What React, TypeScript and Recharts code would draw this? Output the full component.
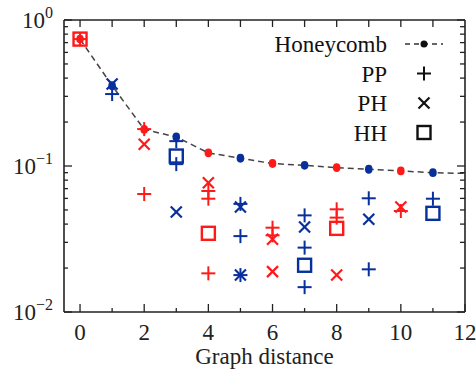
import React from "react";
import { ComposedChart, Legend, Line, Scatter, XAxis, YAxis } from "recharts";

const RED = "#ff1a1a";
const BLUE = "#08309c";
const FONT = "'Liberation Serif', 'DejaVu Serif', serif";

// honeycomb reference curve (x = 12 only carries the dashed line to the frame)
const hcDistance = [0, 1, 2, 3, 4, 5, 6, 7, 8, 9, 10, 11, 12];
const hcValue = [0.74, 0.355, 0.178, 0.158, 0.123, 0.113, 0.104, 0.101, 0.0975, 0.095, 0.0925, 0.09, 0.089];

const ppDistance = [0, 1, 2, 2, 3, 3, 4, 4, 4, 5, 5, 5, 6, 6, 7, 7, 7, 8, 8, 9, 9, 10, 11];
const ppValue = [
  0.74, 0.311, 0.179, 0.0643, 0.148, 0.103, 0.0674, 0.0597, 0.0184, 0.055, 0.0331, 0.0179,
  0.0378, 0.0335, 0.0459, 0.0276, 0.0148, 0.0505, 0.0443, 0.0601, 0.0196, 0.0492, 0.0597,
];

const phDistance = [1, 2, 3, 4, 5, 5, 6, 6, 7, 8, 9, 10];
const phValue = [0.365, 0.141, 0.0484, 0.0769, 0.0524, 0.0179, 0.0315, 0.0189, 0.0382, 0.0179, 0.0432, 0.0524];

const hhDistance = [0, 3, 4, 7, 8, 11];
const hhValue = [0.74, 0.117, 0.0346, 0.0209, 0.0374, 0.0474];

const xTicks = [0, 1, 2, 3, 4, 5, 6, 7, 8, 9, 10, 11, 12];
const yTicks = [
  0.01, 0.02, 0.03, 0.04, 0.05, 0.06, 0.07, 0.08, 0.09,
  0.1, 0.2, 0.3, 0.4, 0.5, 0.6, 0.7, 0.8, 0.9, 1,
];

const colorFor = (d: number) => (d % 2 === 0 ? RED : BLUE);

const toPoints = (xs: number[], ys: number[]) => xs.map((x, i) => ({ x, y: ys[i] }));
const hcData = toPoints(hcDistance, hcValue);
const ppData = toPoints(ppDistance, ppValue);
const phData = toPoints(phDistance, phValue);
const hhData = toPoints(hhDistance, hhValue);

const isPow10 = (v: number) => Math.abs(Math.log10(v) - Math.round(Math.log10(v))) < 1e-6;

function Plus({ cx, cy, color }: any) {
  const h = 7;
  return (
    <g stroke={color} strokeWidth={2}>
      <line x1={cx - h} x2={cx + h} y1={cy} y2={cy} />
      <line x1={cx} x2={cx} y1={cy - h} y2={cy + h} />
    </g>
  );
}

function Cross({ cx, cy, color }: any) {
  const h = 5.5;
  return (
    <g stroke={color} strokeWidth={2.2}>
      <line x1={cx - h} x2={cx + h} y1={cy - h} y2={cy + h} />
      <line x1={cx - h} x2={cx + h} y1={cy + h} y2={cy - h} />
    </g>
  );
}

function Box({ cx, cy, color }: any) {
  const h = 6.5;
  return <rect x={cx - h} y={cy - h} width={2 * h} height={2 * h} fill="none" stroke={color} strokeWidth={2.4} />;
}

function BottomTick({ x, y, payload }: any) {
  const v = payload.value;
  const major = v % 2 === 0;
  return (
    <g>
      <line x1={x} x2={x} y1={y} y2={y - (major ? 8 : 4)} stroke="#222" strokeWidth={1.3} />
      {major && (
        <text x={x} y={y + 28} textAnchor="middle" fontFamily={FONT} fontSize={23} fill="#222">
          {v}
        </text>
      )}
    </g>
  );
}

function TopTick({ x, y, payload }: any) {
  if (payload.value >= 12) return <g />;
  return <line x1={x} x2={x} y1={y} y2={y + 7} stroke="#222" strokeWidth={1.3} />;
}

function LeftTick({ x, y, payload }: any) {
  const v = payload.value;
  const major = isPow10(v);
  const exp = Math.round(Math.log10(v));
  return (
    <g>
      <line x1={x} x2={x + (major ? 8 : 4)} y1={y} y2={y} stroke="#222" strokeWidth={1.3} />
      {major && (
        <text x={x - 11} y={y + 8} textAnchor="end" fontFamily={FONT} fontSize={23} fill="#222">
          10
          <tspan dy={-10} fontSize={16}>
            {exp === 0 ? "0" : `\u2212${Math.abs(exp)}`}
          </tspan>
        </text>
      )}
    </g>
  );
}

function RightTick({ x, y, payload }: any) {
  const major = isPow10(payload.value);
  return <line x1={x} x2={x - (major ? 8 : 5)} y1={y} y2={y} stroke="#222" strokeWidth={1.3} />;
}

const legendRows = [
  { label: "Honeycomb", kind: "hc" },
  { label: "PP", kind: "pp" },
  { label: "PH", kind: "ph" },
  { label: "HH", kind: "hh" },
];

function LegendBox() {
  const textRight = 127;
  const sx = 164;
  return (
    <svg width={200} height={125}>
      {legendRows.map((r, i) => {
        const cy = 17 + i * 29.5;
        return (
          <g key={r.label}>
            <text x={textRight} y={cy + 8} textAnchor="end" fontFamily={FONT} fontSize={23} fill="#111">
              {r.label}
            </text>
            {r.kind === "hc" && (
              <g>
                <line x1={sx - 19} x2={sx + 19} y1={cy} y2={cy} stroke="#333" strokeWidth={1.4} strokeDasharray="5 4" />
                <circle cx={sx} cy={cy} r={3.5} fill="#111" />
              </g>
            )}
            {r.kind === "pp" && <Plus cx={sx} cy={cy} color="#111" />}
            {r.kind === "ph" && <Cross cx={sx} cy={cy} color="#111" />}
            {r.kind === "hh" && <Box cx={sx} cy={cy} color="#111" />}
          </g>
        );
      })}
    </svg>
  );
}

export default function App() {
  return (
    <div style={{ position: "absolute", left: 0, top: 0, background: "#fff" }}>
      <ComposedChart width={476} height={373} margin={{ top: 10, right: 0, bottom: 0, left: 0 }}>
        <XAxis
          xAxisId={0}
          dataKey="x"
          type="number"
          domain={[-0.5, 12]}
          ticks={xTicks}
          interval={0}
          height={61}
          tickSize={0}
          tickMargin={0}
          tick={<BottomTick />}
          axisLine={{ stroke: "#222", strokeWidth: 1.6 }}
          allowDataOverflow
          label={{ value: "Graph distance", position: "insideBottom", offset: 9, fontFamily: FONT, fontSize: 23, fill: "#222" }}
        />
        <XAxis
          xAxisId="top"
          orientation="top"
          dataKey="x"
          type="number"
          domain={[-0.5, 12]}
          ticks={xTicks}
          interval={0}
          height={10}
          tickSize={0}
          tickMargin={0}
          tick={<TopTick />}
          axisLine={{ stroke: "#222", strokeWidth: 1.6 }}
          allowDataOverflow
        />
        <YAxis
          yAxisId={0}
          type="number"
          scale="log"
          domain={[0.01, 1]}
          ticks={yTicks}
          interval={0}
          width={64}
          tickSize={0}
          tickMargin={0}
          tick={<LeftTick />}
          axisLine={{ stroke: "#222", strokeWidth: 1.6 }}
          allowDataOverflow
        />
        <YAxis
          yAxisId="right"
          orientation="right"
          type="number"
          scale="log"
          domain={[0.01, 1]}
          ticks={yTicks}
          interval={0}
          width={11}
          tickSize={0}
          tickMargin={0}
          tick={<RightTick />}
          axisLine={{ stroke: "#222", strokeWidth: 1.6 }}
          allowDataOverflow
        />
        <Legend
          layout="vertical"
          align="center"
          verticalAlign="middle"
          wrapperStyle={{ left: 260, top: 27, width: 200, height: 125 }}
          content={() => <LegendBox />}
        />
        <Line
          data={hcData}
          dataKey="y"
          type="linear"
          stroke="#444"
          strokeWidth={1.5}
          strokeDasharray="6 4"
          isAnimationActive={false}
          dot={(p: any) =>
            p.payload.x <= 11 ? (
              <ellipse key={`d${p.index}`} cx={p.cx} cy={p.cy} rx={3.8} ry={4.4} fill={colorFor(p.payload.x)} />
            ) : (
              <g key={`d${p.index}`} />
            )
          }
          activeDot={false}
        />
        <Scatter
          data={phData}
          dataKey="y"
          isAnimationActive={false}
          shape={(p: any) => <Cross cx={p.cx} cy={p.cy} color={colorFor(p.payload.x)} />}
        />
        <Scatter
          data={hhData}
          dataKey="y"
          isAnimationActive={false}
          shape={(p: any) => <Box cx={p.cx} cy={p.cy} color={colorFor(p.payload.x)} />}
        />
        <Scatter
          data={ppData}
          dataKey="y"
          isAnimationActive={false}
          shape={(p: any) => <Plus cx={p.cx} cy={p.cy} color={colorFor(p.payload.x)} />}
        />
      </ComposedChart>
    </div>
  );
}
